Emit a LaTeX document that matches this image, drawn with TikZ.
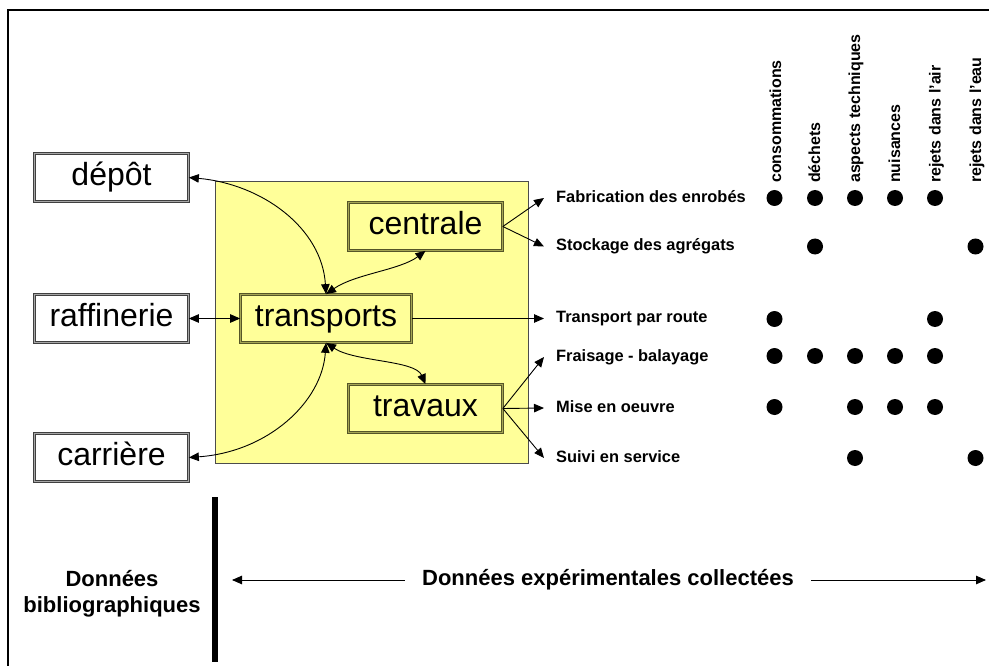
\documentclass[tikz,border=0pt]{standalone}
\usepackage{fontspec}
\setmainfont{Liberation Sans}
\usetikzlibrary{arrows.meta}
\definecolor{paleyellow}{RGB}{255,255,153}
\definecolor{olivedark}{RGB}{85,85,40}
\definecolor{oliveband}{RGB}{165,165,85}
\begin{document}
\begin{tikzpicture}[x=1pt,y=-1pt,
  box/.style={draw=black!75, double=black!35, double distance=1.4pt, line width=0.7pt,
    font=\fontsize{32}{36}\selectfont, inner sep=0pt, text height=23pt, text depth=7pt,
    minimum width=154pt, minimum height=48pt, fill=white},
  ybox/.style={box, fill=paleyellow, draw=olivedark, double=oliveband},
  tip/.tip={Triangle[length=10pt,width=8.5pt]},
  conn/.style={line width=0.9pt, -tip},
  bi/.style={line width=0.9pt, tip-tip},
  lab/.style={anchor=west, font=\bfseries\fontsize{16.4}{19}\selectfont, inner ysep=0pt,
    inner xsep=12pt, text height=12pt, text depth=3.5pt},
  collab/.style={rotate=90, anchor=west, font=\bfseries\fontsize{16}{19}\selectfont,
    inner sep=0pt, text height=11.5pt, text depth=3.5pt},
  dot/.style={circle, fill=black, minimum size=16pt, inner sep=0pt},
  big/.style={font=\bfseries\fontsize{22}{26}\selectfont}
]
\useasboundingbox (0,0) rectangle (989,666);
% outer frame
\draw[line width=2pt] (7.5,666) -- (7.5,10.5) -- (989,10.5);

% yellow zone
\node[draw=black!70, fill=paleyellow, line width=1pt, minimum width=313pt,
  minimum height=281pt, inner sep=0pt] (zone) at (371.5,322.5) {};

% boxes
\node[box] (depot) at (111.5,177.5) {dépôt};
\node[box] (raff) at (111.5,318.5) {raffinerie};
\node[box] (carr) at (111.5,457.5) {carrière};
\node[ybox] (centrale) at (425.5,226.5) {centrale};
\node[ybox, minimum width=171pt] (transports) at (326,318.5) {transports};
\node[ybox] (travaux) at (425.5,408.5) {travaux};

% right labels
\node[lab] (fab) at (544,198) {Fabrication des enrobés};
\node[lab] (stock) at (544,246.5) {Stockage des agrégats};
\node[lab] (route) at (544,318.5) {Transport par route};
\node[lab] (frai) at (544,357) {Fraisage - balayage};
\node[lab] (mise) at (544,408) {Mise en oeuvre};
\node[lab] (suivi) at (544,458) {Suivi en service};

% connectors
\draw[bi] (depot.east) .. controls (262,184) and (322,228) .. (transports.north);
\draw[bi] (transports.north) .. controls (355,274) and (400,270) .. (centrale.south);
\draw[bi] (transports.south) .. controls (355,362) and (415,360) .. (travaux.north);
\draw[bi] (carr.east) .. controls (268,452) and (322,402) .. (transports.south);
\draw[bi] (raff.east) -- (transports.west);
\draw[conn] (transports.east) -- (route.west);
\draw[conn] (centrale.east) -- (fab.west);
\draw[conn] (centrale.east) -- (stock.west);
\draw[conn] (travaux.east) -- (frai.west);
\draw[conn] (travaux.east) -- (mise.west);
\draw[conn] (travaux.east) -- (suivi.west);

% column labels
\node[collab] (c1) at (777,183) {consommations};
\node[collab] (c2) at (816,183) {déchets};
\node[collab] (c3) at (856,183) {aspects techniques};
\node[collab] (c4) at (896,183) {nuisances};
\node[collab] (c5) at (936.5,183) {rejets dans l’air};
\node[collab] (c6) at (977,183) {rejets dans l’eau};

% dots
\foreach \x in {774.5,815,855,895,935} \node[dot] at (\x,198) {};
\foreach \x in {815,975.5} \node[dot] at (\x,246.5) {};
\foreach \x in {774.5,935} \node[dot] at (\x,319) {};
\foreach \x in {774.5,815,855,895,935} \node[dot] at (\x,356) {};
\foreach \x in {774.5,855,895,935} \node[dot] at (\x,407) {};
\foreach \x in {855,975.5} \node[dot] at (\x,458) {};

% bottom
\draw[line width=5.5pt] (215,497) -- (215,662);
\node[big, align=center, inner sep=0pt] (biblio) at (112,594) {Données\\bibliographiques};
\node[big, inner xsep=17pt, inner ysep=0pt] (exp) at (608,580) {Données expérimentales collectées};
\coordinate (bl) at (232,580);
\coordinate (br) at (986,580);
\draw[conn] (exp.west) -- (bl);
\draw[conn] (exp.east) -- (br);
\end{tikzpicture}
\end{document}
